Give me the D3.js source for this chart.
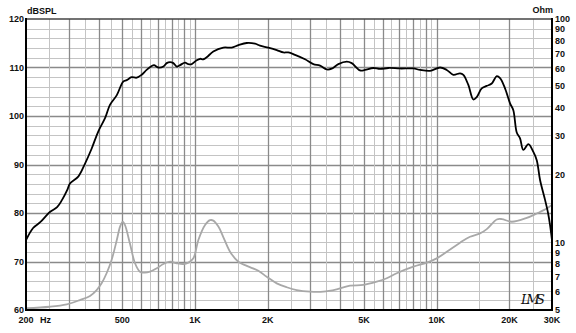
<!DOCTYPE html>
<html><head><meta charset="utf-8">
<script src="https://cdn.jsdelivr.net/npm/d3@7/dist/d3.min.js"></script>
<style>
html,body{margin:0;padding:0;background:#fff;}
svg{display:block;}
text{font-family:"Liberation Sans",Arial,sans-serif;font-weight:bold;fill:#111;}
</style></head>
<body>
<svg id="chart" width="576" height="333"></svg>
<script>
// ---- data ----
const splFreq = [200,214,229,251,269,282,296,304,329,351,374,398,425,445,475,505,522,547,574,602,631,662,677,705,740,764,789,814,841,868,910,939,970,1017,1050,1083,1118,1191,1310,1419,1512,1638,1773,1859,2012,2180,2320,2433,2594,2853,3088,3292,3509,3680,3920,4246,4452,4818,5051,5469,5831,6311,7054,8006,8533,9389,10324,11007,11720,12494,12895,13521,14181,14645,15360,16110,16900,17726,18290,19176,20116,20755,21444,22130,22835,23948,25118,25944,26773,28079,28894,29450,30000];
const splDb = [74.4,76.9,78.1,80.2,81.2,82.7,84.7,86.1,87.5,90.2,93.3,96.8,99.6,102.3,104.3,107.1,107.4,108.0,107.9,108.5,109.5,110.3,110.5,110.0,110.2,110.9,111.1,110.9,110.2,110.5,111.0,110.7,110.7,111.5,111.8,111.7,112.1,113.3,114.1,114.1,114.6,115.05,114.9,114.5,114.1,113.6,113.1,113.1,112.6,111.7,110.7,110.4,109.6,109.75,110.7,111.2,110.9,109.4,109.5,109.9,109.7,109.9,109.8,109.8,109.5,109.3,110.0,109.5,108.5,108.8,108.5,106.4,103.4,103.9,105.7,106.2,106.7,108.2,107.8,105.7,102.6,101.2,96.6,95.4,93.0,94.2,92.6,90.9,86.8,82.7,80.0,77.5,74.4];
const impFreq = [200,251,295,334,368,392,411,431,452,475,490,502,513,538,565,592,621,652,695,740,789,841,895,939,985,1033,1101,1154,1191,1250,1310,1397,1512,1638,1829,1981,2180,2397,2636,2993,3397,3860,4381,4972,5650,6215,6834,8006,9094,10004,11007,12494,13740,15115,16115,17726,18590,20445,23588,25944,28538,30000];
const impOhm = [5.09,5.17,5.30,5.54,5.78,6.14,6.58,7.30,8.37,10.28,11.8,12.4,12.0,9.93,8.09,7.42,7.34,7.42,7.68,8.03,8.22,8.09,8.03,8.14,8.51,10.28,12.0,12.6,12.55,11.8,10.6,9.11,8.22,7.87,7.49,7.04,6.58,6.32,6.14,6.04,6.04,6.19,6.42,6.47,6.69,6.93,7.30,7.81,8.14,8.51,9.11,10.0,10.63,11.0,11.5,12.7,12.75,12.4,12.9,13.5,14.2,14.8];
const xTickValues = [200,500,1000,2000,5000,10000,20000,30000];
const xTickLabels = ["200","500","1K","2K","5K","10K","20K","30K"];
const dbTicks = [60,70,80,90,100,110,120];
const ohmTicks = [5,6,7,8,9,10,20,30,40,50,60,70,80,90,100];

// ---- scales ----
const L=26,R=552,T=19,B=310;
const x = d3.scaleLog().domain([200,30000]).range([L,R]);
const yDb = d3.scaleLinear().domain([60,120]).range([B,T]);
const yOhm = d3.scaleLog().domain([5,100]).range([B,T]);
const svg = d3.select("#chart");

// ---- grid ----
const vLines=[];
for(let f=250; f<1000; f+=50) vLines.push(f);
for(let f=1000; f<10000; f+=500) vLines.push(f);
for(let f=10000; f<30000; f+=5000) vLines.push(f);
const isMajor = f => { const p=Math.pow(10,Math.floor(Math.log10(f)+1e-9)); return Math.abs(f/p-Math.round(f/p))<1e-6; };
const g = svg.append("g");
const hLines = d3.range(62,120,2);
g.selectAll("line.h").data(hLines).join("line")
  .attr("x1",L).attr("x2",R).attr("y1",d=>Math.round(yDb(d))+0.5).attr("y2",d=>Math.round(yDb(d))+0.5)
  .attr("stroke",d=>d%10===0?"#8a8a8a":"#c4c4c4").attr("stroke-width",d=>d%10===0?1.3:1);
g.selectAll("line.v").data(vLines).join("line")
  .attr("y1",T).attr("y2",B).attr("x1",d=>Math.round(x(d))+0.5).attr("x2",d=>Math.round(x(d))+0.5)
  .attr("stroke",d=>isMajor(d)?"#8a8a8a":"#c4c4c4").attr("stroke-width",d=>isMajor(d)?1.3:1);

// ---- curves ----
const impData = impFreq.map((f,i)=>[f,impOhm[i]]);
const splData = splFreq.map((f,i)=>[f,splDb[i]]);
svg.append("path").datum(impData)
  .attr("d",d3.line().x(d=>x(d[0])).y(d=>yOhm(d[1])).curve(d3.curveCatmullRom.alpha(0.5)))
  .attr("fill","none").attr("stroke","#a8a8a8").attr("stroke-width",1.8);
svg.append("path").datum(splData)
  .attr("d",d3.line().x(d=>x(d[0])).y(d=>yDb(d[1])).curve(d3.curveCatmullRom.alpha(0.5)))
  .attr("fill","none").attr("stroke","#000").attr("stroke-width",1.8);

// ---- frame ----
svg.append("line").attr("x1",L).attr("x2",R).attr("y1",T).attr("y2",T).attr("stroke","#444").attr("stroke-width",1.6);
svg.append("line").attr("x1",L).attr("x2",R+1).attr("y1",B).attr("y2",B).attr("stroke","#000").attr("stroke-width",2);
svg.append("line").attr("x1",L).attr("x2",L).attr("y1",T-1).attr("y2",B+1).attr("stroke","#000").attr("stroke-width",2);
svg.append("line").attr("x1",R).attr("x2",R).attr("y1",T-1).attr("y2",B+1).attr("stroke","#000").attr("stroke-width",2);

// ---- axes text ----
const fs = 9;
svg.append("g").selectAll("text").data(dbTicks).join("text")
  .attr("x",24).attr("y",d=>yDb(d)).attr("dy","0.35em").attr("text-anchor","end")
  .attr("font-size",fs).text(d=>d);
svg.append("g").selectAll("text").data(ohmTicks).join("text")
  .attr("x",555).attr("y",d=>yOhm(d)).attr("dy","0.35em").attr("text-anchor","start")
  .attr("font-size",fs).text(d=>d);
svg.append("g").selectAll("text").data(xTickValues).join("text")
  .attr("x",d=>x(d)).attr("y",323).attr("text-anchor","middle")
  .attr("font-size",fs).text((d,i)=>xTickLabels[i]);
svg.append("text").attr("x",40).attr("y",323).attr("font-size",fs).text("Hz");
svg.append("text").attr("x",27).attr("y",14).attr("font-size",fs).text("dBSPL");
svg.append("text").attr("x",553).attr("y",13).attr("text-anchor","end").attr("font-size",fs).text("Ohm");
svg.append("text").attr("x",521).attr("y",304).attr("font-size",13)
  .style("font-family","'DejaVu Serif',serif").style("font-style","italic").style("font-weight","normal")
  .attr("fill","#333").attr("textLength",24).text("LMS");
</script>
</body></html>
